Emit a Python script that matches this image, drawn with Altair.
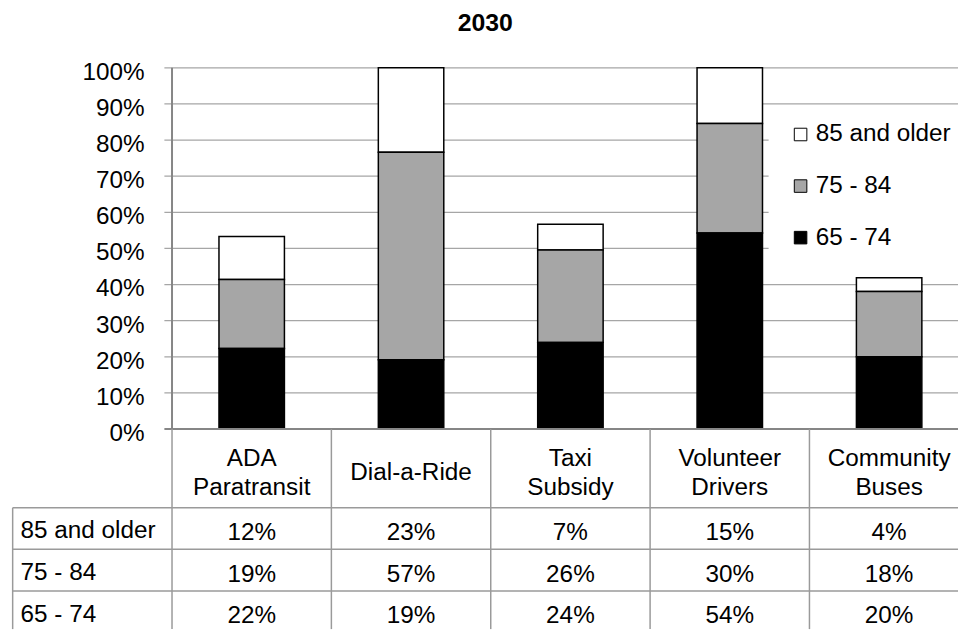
import altair as alt
import pandas as pd

# ---------------- data ----------------
title_text = "2030"
categories = ["ADA Paratransit", "Dial-a-Ride", "Taxi Subsidy", "Volunteer Drivers", "Community Buses"]
category_lines = [["ADA", "Paratransit"], ["Dial-a-Ride"], ["Taxi", "Subsidy"],
                  ["Volunteer", "Drivers"], ["Community", "Buses"]]
series = ["85 and older", "75 - 84", "65 - 74"]
age_85_plus = [11.9, 23.4, 7.1, 15.4, 3.8]
age_75_84 = [19.1, 57.4, 25.6, 30.3, 18.1]
age_65_74 = [22.3, 19.2, 24.0, 54.3, 20.0]
y_ticks = [0, 10, 20, 30, 40, 50, 60, 70, 80, 90, 100]
series_colors = ["#ffffff", "#a6a6a6", "#000000"]

# ---------------- layout ----------------
FONT = "Liberation Sans"
FS = 24.5
COL_PX = 160.7          # pixel width of one table column
Y_PX = 3.643            # pixels per percentage point
W = 953.3
H = 566
XMAX = W / COL_PX
YMIN = 100 - H / Y_PX
HEADER_PX = 79.3
ROW_PX = 42.0
TICK_EXT = 7.7 / COL_PX
BAR_HALF = 33.0 / COL_PX

xs = alt.Scale(domain=[0, XMAX], nice=False, zero=False)
ys = alt.Scale(domain=[YMIN, 100], nice=False, zero=False)

def px_down(p):
    return -p / Y_PX

# bars (long form)
rows = []
for s_i, (name, vals) in enumerate(zip(series, [age_85_plus, age_75_84, age_65_74])):
    for c_i, cat in enumerate(categories):
        rows.append(dict(cat=cat, col=c_i + 1, series=name, value=vals[c_i],
                         stack_order=len(series) - 1 - s_i, row=s_i,
                         label=f"{round(vals[c_i])}%"))
df = pd.DataFrame(rows)

bars = alt.Chart(df).transform_stack(
    stack="value", groupby=["cat"], as_=["y0", "y1"],
    sort=[alt.SortField("stack_order", order="ascending")]
).transform_calculate(
    x0=f"datum.col + 0.5 - {BAR_HALF}", x1=f"datum.col + 0.5 + {BAR_HALF}"
).mark_bar(stroke="black", strokeWidth=1.5).encode(
    x=alt.X("x0:Q", scale=xs, axis=None), x2="x1:Q",
    y=alt.Y("y0:Q", scale=ys, axis=None), y2="y1:Q",
    color=alt.Color("series:N", scale=alt.Scale(domain=series, range=series_colors),
                    legend=alt.Legend(orient="none", legendX=762.3, legendY=45, title=None,
                                      fillColor="white", padding=10, symbolType="square",
                                      symbolSize=160, symbolStrokeColor="black",
                                      symbolStrokeWidth=1, symbolOffset=10,
                                      labelFont=FONT, labelFontSize=FS, labelColor="black",
                                      labelOffset=3, rowPadding=27, labelLimit=400)),
)

# gridlines
grid_df = pd.DataFrame({"y": [t for t in y_ticks if t > 0]})
grid_df["x"] = 1 - TICK_EXT
grid_df["x2"] = XMAX
grid = alt.Chart(grid_df).mark_rule(color="#a6a6a6", strokeWidth=1.3).encode(
    x=alt.X("x:Q", scale=xs, axis=None), x2="x2:Q", y=alt.Y("y:Q", scale=ys, axis=None))

# axis lines
axis_df = pd.DataFrame({"x": [1, 1 - TICK_EXT], "x2": [1, XMAX], "y": [0, 0], "y2": [100, 0]})
axis_lines = alt.Chart(axis_df).mark_rule(color="#868686", strokeWidth=2).encode(
    x=alt.X("x:Q", scale=xs, axis=None), x2="x2:Q",
    y=alt.Y("y:Q", scale=ys, axis=None), y2="y2:Q")

# table lines
tl = []
for c in range(1, len(categories) + 1):
    tl.append(dict(x=c, x2=c, y=0, y2=YMIN))
tl.append(dict(x=0, x2=0, y=px_down(HEADER_PX), y2=YMIN))
for r in range(len(series)):
    yy = px_down(HEADER_PX + r * ROW_PX)
    tl.append(dict(x=0, x2=XMAX, y=yy, y2=yy))
table_lines = alt.Chart(pd.DataFrame(tl)).mark_rule(color="#9a9a9a", strokeWidth=1.5).encode(
    x=alt.X("x:Q", scale=xs, axis=None), x2="x2:Q",
    y=alt.Y("y:Q", scale=ys, axis=None), y2="y2:Q")

# y tick labels
ylab_df = pd.DataFrame({"y": y_ticks, "t": [f"{t}%" for t in y_ticks], "x": 1})
ylabels = alt.Chart(ylab_df).mark_text(font=FONT, fontSize=FS, align="right",
                                       baseline="alphabetic", dx=-27.7, dy=12,
                                       color="black").encode(
    x=alt.X("x:Q", scale=xs, axis=None), y=alt.Y("y:Q", scale=ys, axis=None), text="t:N")

# header labels
hl = []
for c_i, lines in enumerate(category_lines):
    n = len(lines)
    for i, line in enumerate(lines):
        hl.append(dict(x=c_i + 1.5, y=px_down(51.7 + (i - (n - 1) / 2) * 29), t=line))
headers = alt.Chart(pd.DataFrame(hl)).mark_text(font=FONT, fontSize=FS, align="center",
                                               baseline="alphabetic", color="black").encode(
    x=alt.X("x:Q", scale=xs, axis=None), y=alt.Y("y:Q", scale=ys, axis=None), text="t:N")

# row labels
rl_df = pd.DataFrame({"t": series, "x": 0,
                      "y": [px_down(HEADER_PX + r * ROW_PX + 31) for r in range(len(series))]})
row_labels = alt.Chart(rl_df).mark_text(font=FONT, fontSize=FS, align="left",
                                        baseline="alphabetic", dx=8, color="black").encode(
    x=alt.X("x:Q", scale=xs, axis=None), y=alt.Y("y:Q", scale=ys, axis=None), text="t:N")

# values in table
vals_df = df.copy()
vals_df["xt"] = vals_df["col"] + 0.5
vals_df["yt"] = [px_down(HEADER_PX + r * ROW_PX + 32.5) for r in vals_df["row"]]
values = alt.Chart(vals_df).mark_text(font=FONT, fontSize=FS, align="center",
                                      baseline="alphabetic", color="black").encode(
    x=alt.X("xt:Q", scale=xs, axis=None), y=alt.Y("yt:Q", scale=ys, axis=None), text="label:N")

chart = alt.layer(grid, bars, axis_lines, table_lines, ylabels, headers, row_labels, values).properties(
    width=W, height=H,
    title=alt.TitleParams(title_text, font=FONT, fontSize=25, fontWeight="bold", color="black",
                          anchor="middle", offset=24),
    padding={"left": 4.7, "top": 57.7, "right": 0, "bottom": 0},
    autosize=alt.AutoSizeParams(type="none"),
    background="white",
).configure_view(stroke=None)

chart.save("out.html", embed_options={"renderer": "svg", "actions": False})
